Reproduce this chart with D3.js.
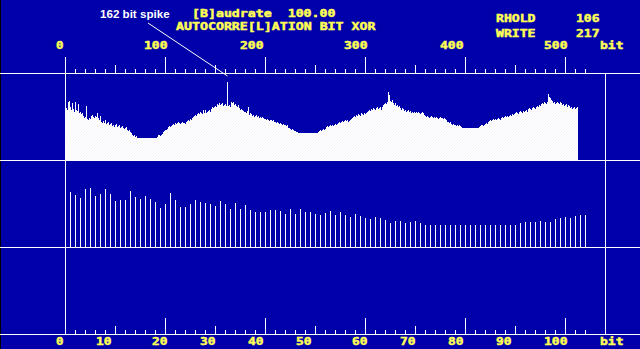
<!DOCTYPE html>
<html>
<head>
<meta charset="utf-8">
<script src="https://cdn.jsdelivr.net/npm/d3@7"></script>
<style>
html, body { margin: 0; padding: 0; background: #0000aa; overflow: hidden; }
svg { display: block; }
</style>
</head>
<body>
<div id="chart"></div>
<script>
// upper trace: autocorrelation per bit shift 0..512 (height units)
var autocorr = [
    55,52,50,58,59,53,50,57,51,48, 58,50,49,56,47,48,46,47,44,42,
    43,54,41,40,42,41,44,45,43,42, 44,43,47,42,40,44,38,37,39,37,
    40,36,37,38,35,36,37,34,35,33, 35,36,33,34,35,32,33,34,32,31,
    32,33,30,29,30,28,27,25,24,25, 23,24,22,22,22,22,22,22,22,22,
    22,22,22,22,22,22,22,22,22,22, 22,22,23,25,25,24,25,26,28,29,
    30,30,31,33,34,33,34,35,36,35, 37,36,37,38,37,36,37,38,37,37,
    36,38,39,40,39,41,40,42,43,44, 45,44,46,47,46,48,47,46,50,47,
    50,47,48,49,50,48,51,53,52,53, 54,53,56,55,57,55,56,57,54,55,
    56,54,78,54,55,53,58,57,58,55, 56,54,53,55,52,50,51,50,49,48,
    48,47,49,53,45,47,46,44,45,43, 44,45,43,44,42,43,42,43,42,41,
    41,40,41,40,39,40,40,39,40,38, 38,37,38,37,36,37,36,35,36,35,
    35,34,35,32,32,31,30,31,30,29, 29,28,28,27,27,27,27,27,27,27,
    27,27,27,27,27,27,27,27,27,27, 27,27,27,28,29,30,29,30,31,30,
    31,33,34,33,34,35,34,35,34,35, 36,35,36,37,38,37,38,39,38,39,
    40,39,40,38,39,40,41,42,43,44, 43,45,44,46,45,44,47,46,45,47,
    46,47,48,49,50,49,51,50,52,51, 50,52,53,51,52,53,50,53,55,56,
    57,56,58,68,65,59,58,60,57,55, 57,54,55,53,54,52,50,52,51,49,
    50,48,49,50,48,49,47,48,47,48, 47,48,47,48,47,46,47,48,47,45,
    44,43,44,43,42,43,44,43,42,43, 42,43,42,41,42,43,42,42,41,42,
    41,40,38,38,37,38,36,35,36,35, 35,34,35,34,35,34,33,32,32,32,
    32,32,32,32,32,32,32,32,32,32, 32,32,32,32,33,34,35,35,34,35,
    36,37,36,38,39,40,39,40,41,40, 41,40,41,42,41,40,42,43,42,43,
    44,43,44,43,44,45,44,46,45,46, 47,48,47,46,48,49,48,47,49,48,
    49,50,48,51,52,51,50,52,53,52, 51,53,54,53,55,54,56,57,56,58,
    57,56,58,66,63,62,60,59,57,58, 56,57,58,57,56,58,57,55,56,54,
    55,56,53,55,54,52,53,51,52,53, 51,52,53
];

// lower trace: bit XOR result for positions 1..104
var xorBits = [
    55,52,49,58,59,51,53,58,53,46, 47,47,56,50,48,51,48,45,39,43,
    54,47,40,40,43,47,45,44,43,41, 46,43,38,44,38,42,37,35,35,35,
    37,37,36,33,38,33,38,35,35,33, 32,34,36,32,35,32,30,33,31,29,
    28,30,29,27,24,26,26,24,25,26, 24,22,22,22,22,22,22,22,22,22,
    22,22,22,22,22,22,22,22,22,22, 24,25,25,25,26,25,25,28,29,30,
    29,31,32,32
];

var topTicks = [0, 100, 200, 300, 400, 500];
var bottomTicks = [0, 10, 20, 30, 40, 50, 60, 70, 80, 90, 100];
var unitLabel = "bit";
var headerLines = ["[B]audrate  100.00", "AUTOCORRE[L]ATION BIT XOR"];
var statusNames = ["RHOLD", "WRITE"];
var statusValues = [106, 217];
var spikeBit = 162;
var spikeNote = "162 bit spike";

var W = 640, H = 349;
var yellow = "#ffff55", blue = "#0000aa";

var svg = d3.select("#chart").append("svg").attr("width", W).attr("height", H);
var marks = svg.append("g").attr("shape-rendering", "crispEdges");
marks.append("rect").attr("width", W).attr("height", H).attr("fill", blue);
marks.append("rect").attr("width", 1).attr("height", H).attr("fill", "#000");

var pat = svg.append("defs").append("pattern").attr("id", "dots")
    .attr("patternUnits", "userSpaceOnUse").attr("width", 3).attr("height", 3);
pat.append("rect").attr("width", 3).attr("height", 3).attr("fill", "#fff");
[[2, 0], [1, 1], [0, 2]].forEach(p => {
    pat.append("rect").attr("x", p[0]).attr("y", p[1]).attr("width", 1).attr("height", 1).attr("fill", "#f3f3fc");
});

var x = d3.scaleLinear().domain([0, 540]).range([65, 605]);
var x2 = d3.scaleLinear().domain([0, 108]).range([65, 605]);
var y = d3.scaleLinear().domain([0, 87]).range([160, 73]);
var y2 = d3.scaleLinear().domain([0, 87]).range([247, 160]);

// upper trace, one pixel column per bit
marks.append("g").selectAll("rect").data(autocorr).enter().append("rect")
    .attr("x", (d, i) => x(i)).attr("width", (d, i) => x(i + 1) - x(i))
    .attr("y", d => y(d)).attr("height", d => y(0) - y(d) + 1)
    .attr("fill", "url(#dots)");

// lower trace, thin bars every bit
marks.append("g").selectAll("rect").data(xorBits).enter().append("rect")
    .attr("x", (d, i) => x2(i + 1)).attr("width", 1)
    .attr("y", d => y2(d)).attr("height", d => y2(0) - y2(d))
    .attr("fill", "#fff");

// frame
function hline(r, x0, x1) { marks.append("rect").attr("x", x0).attr("y", r).attr("width", x1 - x0).attr("height", 1).attr("fill", "#fff"); }
function vline(c, y0, y1) { marks.append("rect").attr("x", c).attr("y", y0).attr("width", 1).attr("height", y1 - y0).attr("fill", "#fff"); }
[73, 160, 247, 334].forEach(r => hline(r, 0, W));
vline(x(0), 57, 335);
vline(x(540), 73, 335);

// ticks
d3.range(0, 521, 10).forEach(d => vline(x(d), 73 - (d % 100 == 0 ? 16 : d % 50 == 0 ? 8 : 4), 73));
d3.range(0, 105, 2).forEach(d => vline(x2(d), 334 - (d % 20 == 0 ? 16 : d % 10 == 0 ? 8 : 4), 334));

// text mode labels on an 8px grid
function cellText(str, col, base, color) {
    svg.append("text").attr("x", col * 8).attr("y", base)
        .attr("textLength", str.length * 8 - 0.5).attr("lengthAdjust", "spacingAndGlyphs")
        .attr("fill", color || yellow).attr("stroke", color || yellow).attr("stroke-width", 0.45)
        .attr("font-family", "DejaVu Sans Mono").attr("font-weight", "bold")
        .attr("font-size", 10).style("white-space", "pre")
        .text(str);
}
topTicks.forEach(t => {
    var s = String(t);
    cellText(s, Math.round(x(t) / 8 - s.length), 48.5);
});
bottomTicks.forEach(t => {
    var s = String(t);
    cellText(s, Math.round(x2(t) / 8 - s.length), 344.5);
});
cellText(unitLabel, Math.floor(x.range()[1] / 8), 48.5);
cellText(unitLabel, Math.floor(x2.range()[1] / 8), 344.5);

cellText(headerLines[0], 24, 16.5);
cellText(headerLines[1], 22, 29.5);
statusNames.forEach((n, i) => {
    cellText(n, 62, 21.5 + i * 15);
    cellText(String(statusValues[i]), 72, 21.5 + i * 15);
});

// annotation
svg.append("text").attr("x", 100).attr("y", 18).attr("fill", "#fff")
    .attr("font-family", "Liberation Sans, Arial, sans-serif").attr("font-weight", "bold").attr("font-size", 11.6)
    .text(spikeNote);
svg.append("line").attr("x1", 148).attr("y1", 23).attr("x2", x(spikeBit) + 0.5).attr("y2", 76)
    .attr("stroke", "#fff");
</script>
</body>
</html>
